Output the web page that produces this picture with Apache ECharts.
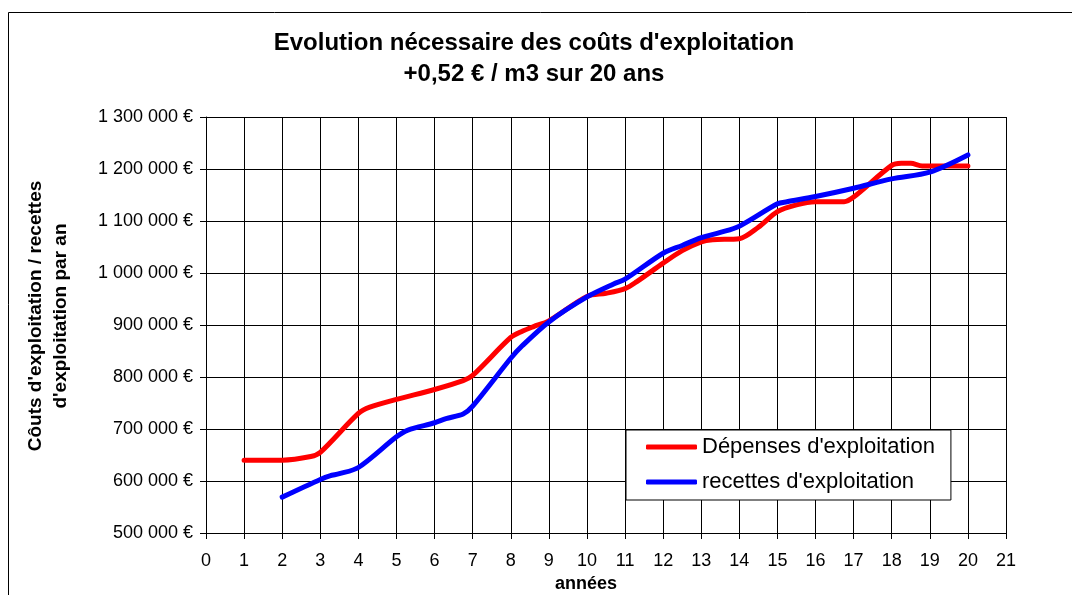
<!DOCTYPE html>
<html>
<head>
<meta charset="utf-8">
<title>Evolution nécessaire des coûts d'exploitation</title>
<script src="https://cdn.jsdelivr.net/npm/echarts@6/dist/echarts.min.js"></script>
<style>
  html, body { margin: 0; padding: 0; background: #fff; }
  #chart { width: 1072px; height: 595px; }
</style>
</head>
<body>
<div id="chart"></div>
<script>
// Years (x) and yearly amounts in euros for each series
const depensesYears = [1, 2, 2.75, 3, 4, 4.3, 5, 6, 6.75, 7, 8, 8.3, 8.6, 9, 10, 10.5, 11, 11.3, 12, 12.5, 13, 13.3, 14, 14.5, 15, 15.5, 16, 16.75, 17, 18, 18.25, 18.5, 18.8, 20];
const depensesValues = [640000, 640000, 647000, 655000, 730000, 742000, 757000, 776000, 793000, 803000, 876000, 888000, 897000, 908000, 955000, 961000, 970000, 983000, 1019000, 1043000, 1060000, 1064000, 1066000, 1088000, 1118000, 1131000, 1137000, 1137000, 1146000, 1207000, 1211000, 1211000, 1206000, 1206000];

const recettesYears = [2, 3, 3.25, 3.5, 4, 5, 5.3, 6, 6.3, 6.75, 7, 8, 8.3, 9, 10, 10.7, 11, 12, 12.5, 13, 13.5, 14, 15, 15.25, 16, 17, 18, 19, 20];
const recettesValues = [569000, 603000, 610000, 614000, 626000, 685000, 698000, 712000, 720000, 729000, 744000, 836000, 860000, 906000, 954000, 979000, 988000, 1038000, 1053000, 1068000, 1078000, 1090000, 1133000, 1137000, 1147000, 1163000, 1181000, 1194000, 1227000];

const seriesNames = ["Dépenses d'exploitation", "recettes d'exploitation"];
const titleLines = ["Evolution nécessaire des coûts d'exploitation", "+0,52 € / m3 sur 20 ans"];
const yAxisTitle = "Côuts d'exploitation / recettes\nd'exploitation par an";
const xAxisTitle = "années";

const FONT = "'Liberation Sans', Arial, sans-serif";

function pairs(xs, ys) {
  return xs.map((x, i) => [x, ys[i]]);
}

function euro(v) {
  const s = String(Math.round(v)).replace(/\B(?=(\d{3})+(?!\d))/g, ' ');
  return s + ' €';
}

const chart = echarts.init(document.getElementById('chart'), null, { renderer: 'canvas' });

chart.setOption({
  backgroundColor: '#fff',
  animation: false,
  title: {
    text: titleLines.join('\n'),
    left: 529,
    top: 23,
    textAlign: 'center',
    textStyle: { fontFamily: FONT, fontWeight: 'bold', fontSize: 24, color: '#000', lineHeight: 31 }
  },
  graphic: [{
    type: 'rect',
    shape: { x: 8.5, y: 12.5, width: 1200, height: 800 },
    style: { fill: null, stroke: '#000', lineWidth: 1 },
    silent: true,
    z: -10
  }],
  grid: { left: 206, right: 66, top: 117, bottom: 62, containLabel: false, outerBoundsMode: 'none' },
  legend: {
    orient: 'vertical',
    left: 626,
    top: 430,
    padding: [5, 16, 6, 20],
    itemGap: 11,
    itemWidth: 51,
    itemHeight: 5,
    icon: 'roundRect',
    borderColor: '#000',
    borderWidth: 1,
    backgroundColor: '#fff',
    textStyle: { fontFamily: FONT, fontSize: 22, color: '#000', lineHeight: 24 },
    data: seriesNames
  },
  xAxis: {
    type: 'value',
    min: 0,
    max: 21,
    interval: 1,
    name: xAxisTitle,
    nameLocation: 'middle',
    nameGap: 38,
    nameTextStyle: { fontFamily: FONT, fontWeight: 'bold', fontSize: 18, color: '#000', padding: [0, 40, 0, 0] },
    axisLine: { show: true, onZero: false, lineStyle: { color: '#000', width: 1 } },
    axisTick: { show: true, length: 6, lineStyle: { color: '#000' } },
    axisLabel: { fontFamily: FONT, fontSize: 18, color: '#000', margin: 19 },
    splitLine: { show: true, lineStyle: { color: '#000', width: 1 } }
  },
  yAxis: {
    type: 'value',
    min: 500000,
    max: 1300000,
    interval: 100000,
    name: yAxisTitle,
    nameLocation: 'middle',
    nameRotate: 90,
    nameGap: 133,
    nameTextStyle: { fontFamily: FONT, fontWeight: 'bold', fontSize: 19, color: '#000', lineHeight: 25, padding: [0, 0, 0, 18] },
    axisLine: { show: true, lineStyle: { color: '#000', width: 1 } },
    axisTick: { show: true, length: 6, lineStyle: { color: '#000' } },
    axisLabel: { fontFamily: FONT, fontSize: 18, color: '#000', margin: 13, formatter: euro },
    splitLine: { show: true, lineStyle: { color: '#000', width: 1 } }
  },
  series: [
    {
      name: seriesNames[0],
      type: 'line',
      data: pairs(depensesYears, depensesValues),
      smooth: 0.3,
      showSymbol: false,
      symbol: 'none',
      itemStyle: { color: '#ff0000' },
      lineStyle: { color: '#ff0000', width: 5, cap: 'round', join: 'round' },
      z: 3
    },
    {
      name: seriesNames[1],
      type: 'line',
      data: pairs(recettesYears, recettesValues),
      smooth: 0.3,
      showSymbol: false,
      symbol: 'none',
      itemStyle: { color: '#0000ff' },
      lineStyle: { color: '#0000ff', width: 5, cap: 'round', join: 'round' },
      z: 4
    }
  ]
});
</script>
</body>
</html>
